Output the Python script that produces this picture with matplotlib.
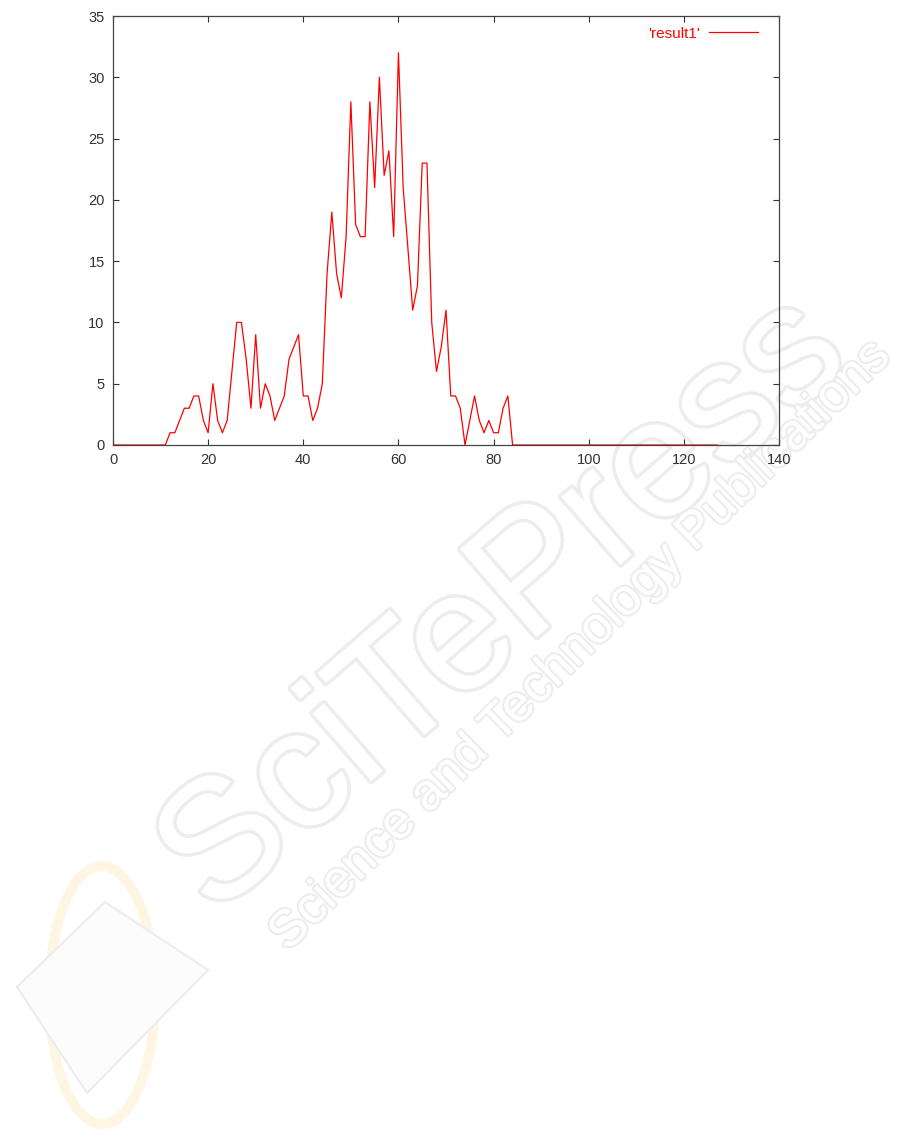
import matplotlib
matplotlib.use("Agg")
import matplotlib.pyplot as plt
import matplotlib.patheffects as pe
from matplotlib.patches import Ellipse, Polygon

plt.rcParams['font.family'] = ['Liberation Sans', 'DejaVu Sans']

x_values = list(range(0, 128))
nonzero = {
    12: 1, 13: 1, 14: 2, 15: 3, 16: 3, 17: 4, 18: 4, 19: 2, 20: 1, 21: 5,
    22: 2, 23: 1, 24: 2, 25: 6, 26: 10, 27: 10, 28: 7, 29: 3, 30: 9, 31: 3,
    32: 5, 33: 4, 34: 2, 35: 3, 36: 4, 37: 7, 38: 8, 39: 9, 40: 4, 41: 4,
    42: 2, 43: 3, 44: 5, 45: 14, 46: 19, 47: 14, 48: 12, 49: 17, 50: 28,
    51: 18, 52: 17, 53: 17, 54: 28, 55: 21, 56: 30, 57: 22, 58: 24, 59: 17,
    60: 32, 61: 21, 62: 16, 63: 11, 64: 13, 65: 23, 66: 23, 67: 10, 68: 6,
    69: 8, 70: 11, 71: 4, 72: 4, 73: 3, 74: 0, 75: 2, 76: 4, 77: 2, 78: 1,
    79: 2, 80: 1, 81: 1, 82: 3, 83: 4,
}
y_values = [nonzero.get(x, 0) for x in x_values]

x_ticks = [0, 20, 40, 60, 80, 100, 120, 140]
y_ticks = [0, 5, 10, 15, 20, 25, 30, 35]
series_label = "'result1'"

W, H = 901, 1142
fig = plt.figure(figsize=(W / 100, H / 100), dpi=100)

# faint publisher watermark (outlined text), drawn beneath the chart
fig.text(505 / W, 1 - 607 / H, "SciTePress", fontsize=122, color='white',
         rotation=41, rotation_mode='anchor', ha='center', va='center',
         zorder=-10,
         path_effects=[pe.Stroke(linewidth=5, foreground='#ededed'), pe.Normal()])
fig.text(580 / W, 1 - 646 / H, "Science and Technology Publications",
         fontsize=37, color='white', rotation=44.5, rotation_mode='anchor',
         ha='center', va='center', zorder=-10,
         path_effects=[pe.Stroke(linewidth=3, foreground='#ededed'), pe.Normal()])

# faint logo in lower-left corner
ring = Ellipse((102 / W, 1 - 995 / H), 106 / W, 258 / H, fill=False,
               edgecolor='#fef6e3', linewidth=7, transform=fig.transFigure,
               zorder=-10)
fig.add_artist(ring)
diamond = Polygon([(17 / W, 1 - 987 / H), (105 / W, 1 - 902 / H),
                   (208 / W, 1 - 970 / H), (87 / W, 1 - 1093 / H)],
                  closed=True, facecolor='#fcfcfc', edgecolor='#ececec',
                  linewidth=1.5, transform=fig.transFigure, zorder=-9)
fig.add_artist(diamond)

ax = fig.add_axes([113 / W, 1 - 445 / H, (779 - 113) / W, (445 - 16) / H])
ax.set_zorder(5)
ax.patch.set_alpha(0)
ax.plot(x_values, y_values, color='#ff0000', lw=0.9, label=series_label)
ax.set_xlim(0, 140)
ax.set_ylim(0, 35)
ax.set_xticks(x_ticks)
ax.set_yticks(y_ticks)
ax.tick_params(direction='in', length=4, width=0.8, top=True, right=True,
               labelsize=10.5, colors='#333333', pad=6)
for s in ax.spines.values():
    s.set_color('#444444')
    s.set_linewidth(0.9)

leg = ax.legend(loc='upper right', frameon=False, markerfirst=False,
                handlelength=3.2, fontsize=11, borderaxespad=0.3,
                handletextpad=0.6, bbox_to_anchor=(0.985, 1.0))
for t in leg.get_texts():
    t.set_color('#ff0000')

fig.savefig('out.png', dpi=100)
